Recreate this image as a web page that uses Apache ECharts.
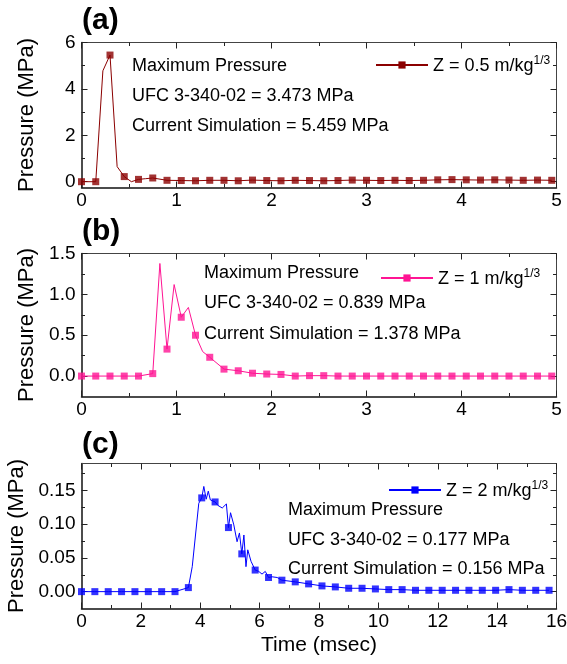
<!DOCTYPE html>
<html>
<head>
<meta charset="utf-8">
<title>Pressure histories</title>
<script src="https://cdn.jsdelivr.net/npm/echarts@6/dist/echarts.min.js"></script>
<style>
html, body { margin: 0; padding: 0; background: #fff; }
#chart { width: 567px; height: 664px; }
</style>
</head>
<body>
<div id="chart"></div>
<script>
// (a) Z = 0.5 m/kg^1/3 : marker times and values
var timeAB = [0, 0.15, 0.3, 0.45, 0.6, 0.75, 0.9, 1.05, 1.2, 1.35, 1.5, 1.65, 1.8, 1.95, 2.1, 2.25, 2.4,
	2.55, 2.7, 2.85, 3.0, 3.15, 3.3, 3.45, 3.6, 3.75, 3.9, 4.05, 4.2, 4.35, 4.5, 4.65, 4.8, 4.95];
var presA = [0, 0, 5.459, 0.22, 0.1, 0.16, 0.06, 0.05, 0.04, 0.06, 0.06, 0.04, 0.07, 0.05, 0.04, 0.06, 0.05,
	0.04, 0.05, 0.07, 0.06, 0.05, 0.06, 0.05, 0.06, 0.08, 0.09, 0.08, 0.07, 0.08, 0.07, 0.06, 0.07, 0.06];
// line vertices between markers
var midTimeA = [0.225, 0.375, 0.525, 0.675];
var midPresA = [4.78, 0.65, 0.0, 0.13];

// (b) Z = 1 m/kg^1/3
var presB = [0, 0, 0, 0, 0, 0.03, 0.33, 0.72, 0.5, 0.23, 0.085, 0.065, 0.035, 0.025, 0.02, 0.0, 0.005,
	0.005, 0, 0, 0, 0, 0, 0, 0, 0, 0, 0, 0, 0, 0, 0, 0, 0];
var midTimeB = [0.825, 0.975, 1.125, 1.275];
var midPresB = [1.378, 1.12, 0.84, 0.30];

// (c) Z = 2 m/kg^1/3
var timeC = [0, 0.45, 0.9, 1.35, 1.8, 2.25, 2.7, 3.15, 3.6, 4.05, 4.5, 4.95, 5.4, 5.85, 6.3, 6.75, 7.2, 7.65,
	8.1, 8.55, 9.0, 9.45, 9.9, 10.35, 10.8, 11.25, 11.7, 12.15, 12.6, 13.05, 13.5, 13.95, 14.4, 14.85, 15.3, 15.75];
var presC = [0, 0, 0, 0, 0, 0, 0, 0, 0.006, 0.139, 0.133, 0.095, 0.056, 0.032, 0.021, 0.017, 0.0145, 0.0115,
	0.0085, 0.007, 0.005, 0.005, 0.004, 0.003, 0.003, 0.002, 0.002, 0.002, 0.002, 0.002, 0.002, 0.002, 0.003, 0.002, 0.002, 0.002];
var midTimeC = [3.73, 3.95, 4.12, 4.2, 4.27, 4.34, 4.59, 4.74, 4.88, 5.02, 5.13, 5.24, 5.32, 5.47, 5.54, 5.6, 5.71,
	5.97, 6.08, 6.19, 6.42, 6.59];
var midPresC = [0.037, 0.131, 0.156, 0.137, 0.149, 0.136, 0.128, 0.124, 0.130, 0.117, 0.099, 0.074, 0.087, 0.084,
	0.037, 0.062, 0.045, 0.030, 0.026, 0.030, 0.022, 0.021];

// tick labels
var yTicksA = [0, 2, 4, 6], yMinorA = [1, 3, 5];
var yTicksB = [0, 0.5, 1.0, 1.5], yMinorB = [0.25, 0.75, 1.25];
var yTicksC = [0, 0.05, 0.10, 0.15], yMinorC = [0.025, 0.075, 0.125, 0.175];

var seriesNames = ['Z = 0.5 m/kg', 'Z = 1 m/kg', 'Z = 2 m/kg'];
var panelLabels = ['(a)', '(b)', '(c)'];
var notesA = ['Maximum Pressure', 'UFC 3-340-02 = 3.473 MPa', 'Current Simulation = 5.459 MPa'];
var notesB = ['Maximum Pressure', 'UFC 3-340-02 = 0.839 MPa', 'Current Simulation = 1.378 MPa'];
var notesC = ['Maximum Pressure', 'UFC 3-340-02 = 0.177 MPa', 'Current Simulation = 0.156 MPa'];

var FONT = 'Liberation Sans, Arial, sans-serif';
var colors = ['#8b0000', '#ff1493', '#0000ff'];

function zip(t, v) {
	var out = [];
	for (var i = 0; i < t.length; i++) out.push([t[i], v[i]]);
	return out;
}
function lineData(t, v, mt, mv) {
	var pts = zip(t, v).concat(zip(mt, mv));
	pts.sort(function(p, q) { return p[0] - q[0]; });
	return pts;
}

var grids = [
	{ left: 81.5, top: 42.5, width: 475, height: 145 },
	{ left: 81.5, top: 253.5, width: 475, height: 143 },
	{ left: 81.5, top: 463.5, width: 475, height: 145 }
];
grids.forEach(function(g) { g.outerBoundsMode = 'none'; g.containLabel = false; });

var xAxes = [], yAxes = [];
function addAxes(g, xMax, xStep, yMin, yMax, yTicks, yMinor, dec, xName) {
	var mainLine = { show: true, onZero: false, lineStyle: { color: '#111', width: 1.5 } };
	var sideLine = { show: true, onZero: false, lineStyle: { color: '#444', width: 1 } };
	['bottom', 'top'].forEach(function(pos) {
		var bottom = pos === 'bottom';
		xAxes.push({
			type: 'value', gridIndex: g, position: pos, min: 0, max: xMax, interval: xStep,
			axisLine: bottom ? mainLine : sideLine,
			axisTick: { show: true, inside: true, length: 6, lineStyle: { color: '#222' } },
			minorTick: { show: true, splitNumber: 2, length: 3.5, lineStyle: { color: '#222' } },
			axisLabel: { show: bottom, fontSize: 19, color: '#000', fontFamily: FONT, margin: 4 },
			splitLine: { show: false },
			name: bottom ? xName : '', nameLocation: 'middle', nameGap: 26,
			nameTextStyle: { fontSize: 21, color: '#000', fontFamily: FONT }
		});
	});
	['left', 'right'].forEach(function(pos) {
		var left = pos === 'left';
		yAxes.push({
			type: 'value', gridIndex: g, position: pos, min: yMin, max: yMax,
			axisLine: left ? mainLine : sideLine,
			axisTick: { show: true, inside: true, length: 6, customValues: yTicks, lineStyle: { color: '#222' } },
			axisLabel: {
				show: left, customValues: yTicks, fontSize: 19, color: '#000', fontFamily: FONT, margin: 6,
				formatter: function(v) { return v.toFixed(dec); }
			},
			splitLine: { show: false },
			name: left ? 'Pressure (MPa)' : '', nameLocation: 'middle', nameGap: 44,
			nameTextStyle: { fontSize: 22, color: '#000', fontFamily: FONT }
		});
		yAxes.push({
			type: 'value', gridIndex: g, position: pos, min: yMin, max: yMax,
			axisLine: { show: false, onZero: false },
			axisTick: { show: true, inside: true, length: 3.5, customValues: yMinor, lineStyle: { color: '#222' } },
			axisLabel: { show: false },
			splitLine: { show: false }
		});
	});
}
addAxes(0, 5, 1, -0.25, 6, yTicksA, yMinorA, 0, '');
addAxes(1, 5, 1, -0.25, 1.5, yTicksB, yMinorB, 1, '');
addAxes(2, 16, 2, -0.025, 0.19, yTicksC, yMinorC, 2, 'Time (msec)');

var panels = [
	{ line: lineData(timeAB, presA, midTimeA, midPresA), marks: zip(timeAB, presA) },
	{ line: lineData(timeAB, presB, midTimeB, midPresB), marks: zip(timeAB, presB) },
	{ line: lineData(timeC, presC, midTimeC, midPresC), marks: zip(timeC, presC) }
];
var series = [];
panels.forEach(function(p, i) {
	series.push({
		type: 'line', name: seriesNames[i], xAxisIndex: 2 * i, yAxisIndex: 4 * i,
		data: p.line, symbol: 'rect', symbolSize: 7, showSymbol: false,
		lineStyle: { color: colors[i], width: 1 }, itemStyle: { color: colors[i] },
		silent: true, z: 2
	});
	series.push({
		type: 'scatter', name: 'marks' + i, xAxisIndex: 2 * i, yAxisIndex: 4 * i,
		data: p.marks, symbol: 'rect', symbolSize: 7,
		itemStyle: { color: colors[i] }, silent: true, z: 3
	});
});

var legendPos = [[375, 55], [380, 268], [388, 480]];
var legends = seriesNames.map(function(n, i) {
	return {
		data: [n], left: legendPos[i][0], top: legendPos[i][1], padding: 0,
		itemWidth: 52, itemHeight: 9, itemGap: 0, selectedMode: false,
		formatter: function(name) { return '{m|' + name + '}{sup|1/3}'; },
		textStyle: {
			color: '#000', fontFamily: FONT, fontSize: 18,
			rich: {
				m: { fontSize: 18, lineHeight: 20, fontFamily: FONT, color: '#000', verticalAlign: 'bottom' },
				sup: { fontSize: 12, lineHeight: 10, fontFamily: FONT, color: '#000', verticalAlign: 'top' }
			}
		}
	};
});

var titles = panelLabels.map(function(t, i) {
	return {
		text: t, left: 82, top: [6, 217, 430][i], padding: 0,
		textStyle: { fontSize: 30, fontWeight: 'bold', color: '#000', fontFamily: FONT }
	};
});

var notePos = [[132, 66, 30], [204, 273, 30.5], [288, 510, 29.7]];
var graphics = [];
[notesA, notesB, notesC].forEach(function(notes, i) {
	notes.forEach(function(s, k) {
		graphics.push({
			type: 'text', x: notePos[i][0], y: notePos[i][1] + k * notePos[i][2], silent: true,
			style: { text: s, fontSize: 18, fontFamily: FONT, fill: '#000', verticalAlign: 'middle' }
		});
	});
});

var chart = echarts.init(document.getElementById('chart'));
chart.setOption({
	animation: false,
	backgroundColor: '#fff',
	title: titles,
	legend: legends,
	grid: grids,
	xAxis: xAxes,
	yAxis: yAxes,
	series: series,
	graphic: graphics
});
</script>
</body>
</html>
